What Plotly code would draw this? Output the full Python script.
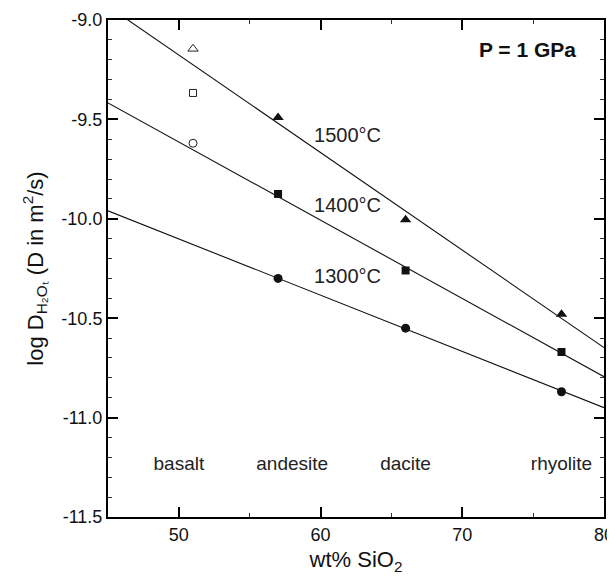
import plotly.graph_objects as go

# Data
sio2_exp = [57, 66, 77]
logD_1500 = [-9.49, -10.005, -10.48]
logD_1400 = [-9.875, -10.26, -10.67]
logD_1300 = [-10.30, -10.55, -10.87]

sio2_basalt = [51]
logD_basalt_1500 = [-9.145]
logD_basalt_1400 = [-9.367]
logD_basalt_1300 = [-9.62]

fit_x = [45, 80]
fit_1500 = [-8.931, -10.648]
fit_1400 = [-9.417, -10.794]
fit_1300 = [-9.96, -10.95]

temp_labels = ["1500°C", "1400°C", "1300°C"]
temp_label_x = [61.9, 61.9, 61.9]
temp_label_y = [-9.59, -9.94, -10.30]

rock_names = ["basalt", "andesite", "dacite", "rhyolite"]
rock_x = [50, 58, 66, 77]
rock_y = [-11.24, -11.24, -11.24, -11.24]

pressure_label = ["<b>P = 1 GPa</b>"]
pressure_x = [74.6]
pressure_y = [-9.16]

x_tickvals = [50, 60, 70, 80]
y_tickvals = [-11.5, -11.0, -10.5, -10.0, -9.5, -9.0]
y_ticktext = ["-11.5", "-11.0", "-10.5", "-10.0", "-9.5", "-9.0"]

FONT = "Liberation Sans, Arial, sans-serif"
fig = go.Figure()

for fy in [fit_1500, fit_1400, fit_1300]:
    fig.add_trace(go.Scatter(x=fit_x, y=fy, mode="lines",
                             line=dict(color="#111", width=1.1), showlegend=False))

fig.add_trace(go.Scatter(x=sio2_exp, y=logD_1500, mode="markers",
                         marker=dict(symbol="triangle-up", size=10, color="#111"), showlegend=False))
fig.add_trace(go.Scatter(x=sio2_exp, y=logD_1400, mode="markers",
                         marker=dict(symbol="square", size=8, color="#111"), showlegend=False))
fig.add_trace(go.Scatter(x=sio2_exp, y=logD_1300, mode="markers",
                         marker=dict(symbol="circle", size=9, color="#111"), showlegend=False))

fig.add_trace(go.Scatter(x=sio2_basalt, y=logD_basalt_1500, mode="markers",
                         marker=dict(symbol="triangle-up-open", size=9, color="#222", line=dict(width=1)), showlegend=False))
fig.add_trace(go.Scatter(x=sio2_basalt, y=logD_basalt_1400, mode="markers",
                         marker=dict(symbol="square-open", size=7, color="#222", line=dict(width=1)), showlegend=False))
fig.add_trace(go.Scatter(x=sio2_basalt, y=logD_basalt_1300, mode="markers",
                         marker=dict(symbol="circle-open", size=8, color="#222", line=dict(width=1)), showlegend=False))

fig.add_trace(go.Scatter(x=temp_label_x, y=temp_label_y, mode="text", text=temp_labels,
                         textposition="middle center", hoverinfo="skip",
                         textfont=dict(family=FONT, size=20, color="#222"), showlegend=False))
fig.add_trace(go.Scatter(x=rock_x, y=rock_y, mode="text", text=rock_names,
                         textposition="middle center", hoverinfo="skip",
                         textfont=dict(family=FONT, size=19, color="#222"), showlegend=False))
fig.add_trace(go.Scatter(x=pressure_x, y=pressure_y, mode="text", text=pressure_label,
                         textposition="middle center", hoverinfo="skip",
                         textfont=dict(family=FONT, size=21, color="#111"), showlegend=False))

base = dict(showline=True, linecolor="black", linewidth=2, mirror="allticks",
            ticks="inside", ticklen=10, tickwidth=2, tickcolor="black",
            showgrid=False, zeroline=False,
            tickfont=dict(family=FONT, size=18, color="#111"))

fig.update_xaxes(range=[45, 80], tickmode="array", tickvals=x_tickvals,
                 minor=dict(dtick=5, tick0=45, ticks="inside", ticklen=4, tickcolor="#333",
                            tickwidth=1, showgrid=False),
                 title=dict(text="\u00a0" * 9 + "wt% SiO<sub>2</sub>",
                            font=dict(family=FONT, size=22, color="#111"), standoff=8),
                 **base)
fig.update_yaxes(range=[-11.5, -9.0], tickmode="array", tickvals=y_tickvals, ticktext=y_ticktext,
                 minor=dict(dtick=0.1, tick0=-9.0, ticks="inside", ticklen=4, tickcolor="#333",
                            tickwidth=1, showgrid=False),
                 title=dict(text="log D<sub>H₂Oₜ</sub> (D in m<sup>2</sup>/s)",
                            font=dict(family=FONT, size=22, color="#111"), standoff=12),
                 **base)

fig.update_layout(template="none", width=607, height=575, margin=dict(l=100, r=11, t=12, b=66),
                  paper_bgcolor="white", plot_bgcolor="white", showlegend=False)

fig.write_html("out.html")
